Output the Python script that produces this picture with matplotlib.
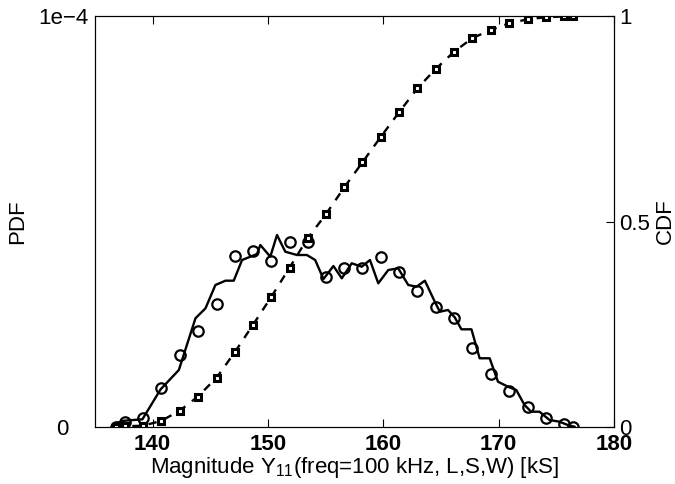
import numpy as np
import matplotlib
matplotlib.use('Agg')
import matplotlib.pyplot as plt

# data
# PDF (solid line)
pdf_x = [136.80, 137.52, 139.11, 140.69, 142.27, 143.71, 144.58, 145.44, 146.31,
         147.03, 147.75, 149.05, 149.33, 150.20, 150.78, 151.50, 152.51, 153.37,
         154.09, 154.81, 155.67, 156.40, 157.26, 158.13, 158.84, 159.56, 160.43,
         161.29, 162.16, 162.88, 163.60, 164.46, 164.90, 165.61, 166.19, 166.77,
         167.64, 168.35, 169.22, 169.94, 170.80, 171.53, 172.24, 172.82, 173.54,
         174.41, 175.27, 175.99, 176.57]
pdf_y = [0.90e-6, 1.53e-6, 1.87e-6, 9.17e-6, 1.387e-5, 2.645e-5, 2.888e-5, 3.455e-5,
         3.56e-5, 3.56e-5, 4.063e-5, 4.209e-5, 4.428e-5, 4.144e-5, 4.672e-5, 4.265e-5,
         4.185e-5, 4.185e-5, 4.063e-5, 3.60e-5, 3.917e-5, 3.618e-5, 3.983e-5, 3.90e-5,
         4.063e-5, 3.496e-5, 3.82e-5, 3.861e-5, 3.455e-5, 3.414e-5, 3.56e-5, 3.049e-5,
         2.805e-5, 2.847e-5, 2.669e-5, 2.377e-5, 2.377e-5, 1.672e-5, 1.672e-5,
         1.102e-5, 0.981e-5, 0.900e-5, 0.535e-5, 0.372e-5, 0.372e-5, 0.170e-5,
         0.129e-5, 0.049e-5, 0.007e-5]

# PDF markers (circles) and CDF markers (squares) share the same x
mk_x = [136.80, 137.60, 139.16, 140.75, 142.36, 143.92, 145.54, 147.12, 148.71,
        150.27, 151.88, 153.43, 155.03, 156.61, 158.19, 159.78, 161.37, 162.95,
        164.54, 166.13, 167.71, 169.30, 170.91, 172.50, 174.08, 175.67, 176.45]
mk_pdf = [0.0, 1.29e-6, 2.12e-6, 9.42e-6, 1.745e-5, 2.33e-5, 2.99e-5, 4.16e-5,
          4.28e-5, 4.04e-5, 4.50e-5, 4.50e-5, 3.66e-5, 3.86e-5, 3.88e-5, 4.14e-5,
          3.76e-5, 3.32e-5, 2.93e-5, 2.65e-5, 1.93e-5, 1.29e-5, 8.76e-6, 4.79e-6,
          2.12e-6, 7.3e-7, 0.0]
mk_cdf = [0.0, 0.002, 0.003, 0.015, 0.040, 0.074, 0.120, 0.182, 0.249, 0.316,
          0.388, 0.459, 0.518, 0.583, 0.644, 0.706, 0.766, 0.824, 0.871, 0.913,
          0.946, 0.966, 0.982, 0.992, 0.997, 0.999, 1.0]

xticks = [140, 150, 160, 170, 180]

# setup figure
plt.rcdefaults()
plt.rc('font', family=['Liberation Sans', 'DejaVu Sans'], size=16)
plt.rc('mathtext', fontset='custom', rm='Liberation Sans', it='Liberation Sans')
plt.rc('axes', lw=0.8)

fig = plt.figure(figsize=(6.75, 4.84), dpi=100, facecolor='w')
ax = fig.add_axes([95 / 675, 1 - 427 / 484, (614 - 95) / 675, (427 - 16) / 484])
ax2 = ax.twinx()

# pdf
ax.plot(pdf_x, pdf_y, 'k-', lw=1.7)
ax.plot(mk_x, mk_pdf, 'ko', ls='none', ms=7.5, mfc='none', mew=1.6)

# cdf
ax2.plot(mk_x, mk_cdf, 'k', ls=(0, (3.5, 3.5)), lw=1.7,
         marker='s', ms=5, mfc='w', mec='k', mew=2.2)

ax.set_xlim(135, 180)
ax.set_ylim(0, 1e-4)
ax2.set_ylim(0, 1)

ax.set_xticks(xticks)
ax.set_xticklabels([str(t) for t in xticks], fontweight='bold')
ax.set_yticks([0, 1e-4])
ax.set_yticklabels(['0   ', '1e\u22124'])
ax2.set_yticks([0, 0.5, 1])
ax2.set_yticklabels(['0', '0.5', '1'])

ax.tick_params(axis='x', direction='in', top=True, length=6, width=0.8, pad=5)
ax.tick_params(axis='y', direction='in', length=0, pad=5)
ax2.tick_params(axis='y', direction='in', length=6, width=0.8, pad=4)

ax.set_xlabel('Magnitude $\\mathregular{Y_{11}}$(freq=100 kHz, L,S,W) [kS]', labelpad=0)
ax.set_ylabel('PDF', labelpad=7)
ax2.set_ylabel('CDF', labelpad=3)

fig.savefig('out.png', dpi=100, facecolor='w')
